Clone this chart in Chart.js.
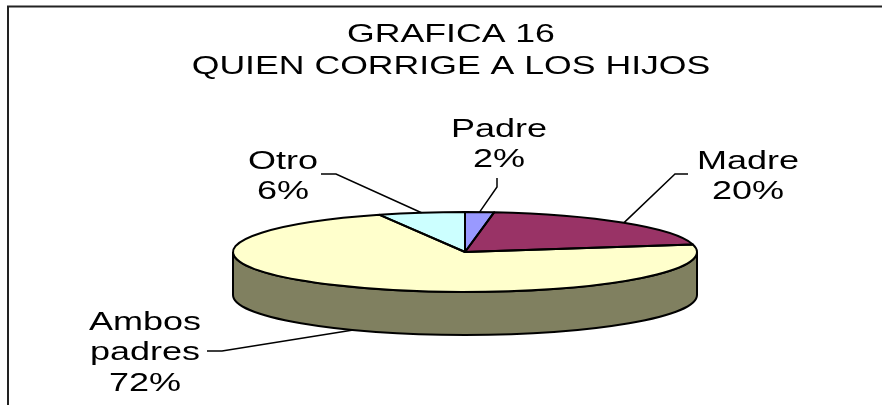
<!DOCTYPE html>
<html>
<head>
<meta charset="utf-8">
<style>html,body{margin:0;padding:0;background:#fff}canvas{display:block}</style>
<script src="https://cdn.jsdelivr.net/npm/chart.js@4"></script>
</head>
<body>
<canvas id="c" width="882" height="407"></canvas>
<script>
const titleLines = ["GRAFICA 16", "QUIEN CORRIGE A LOS HIJOS"];
const categories = ["Padre", "Madre", "Ambos padres", "Otro"];
const labelLines = [["Padre"], ["Madre"], ["Ambos", "padres"], ["Otro"]];
const values = [2, 20, 72, 6];
const colors = ["#9999FF", "#993366", "#FFFFCC", "#CCFFFF"];
const wallColor = "#808060";

const FONT = '25px "Liberation Sans", Arial, sans-serif';
const STRETCH = 1.44;        // reference labels are stretched horizontally
const TITLE_STRETCH = 1.425;
const RX = 232, RY = 40, DEPTH = 43;
const LINE_GAP = 30.5;
// label centre (x, first line middle y) and leader elbows, per slice
const labelPlace = [
  {x: 499, y: 130, elbow: [[497, 178], [497, 187]]},
  {x: 748, y: 162, elbow: [[688, 174], [675, 174]]},
  {x: 145, y: 323, elbow: [[207, 351], [222, 351]]},
  {x: 283, y: 162, elbow: [[321, 174], [336, 174]]}
];

const pie3d = {
  id: 'pie3d',
  afterLayout(chart) {
    // keep the two-line title centred once the horizontal stretch is applied
    const t = chart.titleBlock;
    const c = 451 / TITLE_STRETCH;
    t.left = 0; t.right = 2 * c;
  },
  beforeDraw(chart) {
    const ctx = chart.ctx;
    ctx.save();
    ctx.fillStyle = '#fff';
    ctx.fillRect(0, 0, chart.width, chart.height);
    ctx.strokeStyle = '#222';
    ctx.lineWidth = 2;
    ctx.beginPath();
    ctx.moveTo(8, 405); ctx.lineTo(8, 6.5); ctx.lineTo(882, 6.5);
    ctx.stroke();
    ctx.restore();
    ctx.save();
    ctx.scale(TITLE_STRETCH, 1);
  },
  beforeDatasetsDraw(chart) {
    chart.ctx.restore();
  },
  beforeDatasetDraw(chart, args) {
    const ctx = chart.ctx, a = args.meta.data[0];
    const cx = a.x, cy = a.y;
    // side wall under the top disc
    ctx.save();
    ctx.fillStyle = wallColor;
    ctx.strokeStyle = '#000';
    ctx.lineWidth = 2;
    ctx.beginPath();
    ctx.ellipse(cx, cy, RX, RY, 0, 0, Math.PI);
    ctx.lineTo(cx - RX, cy + DEPTH);
    ctx.ellipse(cx, cy + DEPTH, RX, RY, 0, Math.PI, 0, true);
    ctx.closePath();
    ctx.fill();
    ctx.stroke();
    ctx.restore();
    // squash the library's circular slices to the tilted disc
    ctx.save();
    ctx.translate(cx, cy);
    ctx.scale(1, RY / RX);
    ctx.translate(-cx, -cy);
  },
  afterDatasetDraw(chart, args) {
    const ctx = chart.ctx;
    ctx.restore();
    ctx.save();
    ctx.strokeStyle = '#000';
    ctx.lineWidth = 2;
    ctx.lineJoin = 'round';
    args.meta.data.forEach(a => {
      ctx.beginPath();
      ctx.moveTo(a.x, a.y);
      ctx.ellipse(a.x, a.y, RX, RY, 0, a.startAngle, a.endAngle);
      ctx.closePath();
      ctx.stroke();
    });
    ctx.restore();
  },
  afterDraw(chart) {
    const ctx = chart.ctx;
    const arcs = chart.getDatasetMeta(0).data;
    ctx.save();
    ctx.fillStyle = '#000';
    ctx.strokeStyle = '#000';
    ctx.lineWidth = 1.5;
    ctx.font = FONT;
    ctx.textAlign = 'center';
    ctx.textBaseline = 'middle';
    arcs.forEach((a, i) => {
      const p = labelPlace[i];
      const mid = (a.startAngle + a.endAngle) / 2;
      const ax = a.x + RX * Math.cos(mid);
      let ay = a.y + RY * Math.sin(mid);
      if (Math.sin(mid) > 0) ay += DEPTH;
      ctx.beginPath();
      ctx.moveTo(p.elbow[0][0], p.elbow[0][1]);
      ctx.lineTo(p.elbow[1][0], p.elbow[1][1]);
      ctx.lineTo(ax, ay);
      ctx.stroke();
      const lines = labelLines[i].concat([values[i] + '%']);
      lines.forEach((s, j) => {
        ctx.save();
        ctx.translate(p.x, p.y + j * LINE_GAP);
        ctx.scale(STRETCH, 1);
        ctx.fillText(s, 0, 0);
        ctx.restore();
      });
    });
    ctx.restore();
  }
};

new Chart(document.getElementById('c'), {
  type: 'pie',
  plugins: [pie3d],
  data: {
    labels: categories,
    datasets: [{
      data: values,
      backgroundColor: colors,
      borderWidth: 0,
      clip: false
    }]
  },
  options: {
    responsive: false,
    animation: false,
    radius: RX,
    layout: {padding: {left: 48, right: 0, top: 0, bottom: 0}},
    plugins: {
      legend: {display: false},
      tooltip: {enabled: false},
      title: {
        display: true,
        text: titleLines,
        color: '#000',
        font: {family: '"Liberation Sans", Arial, sans-serif', size: 25, weight: 'normal', lineHeight: 1.28},
        padding: {top: 19, bottom: 14}
      }
    }
  }
});
</script>
</body>
</html>
